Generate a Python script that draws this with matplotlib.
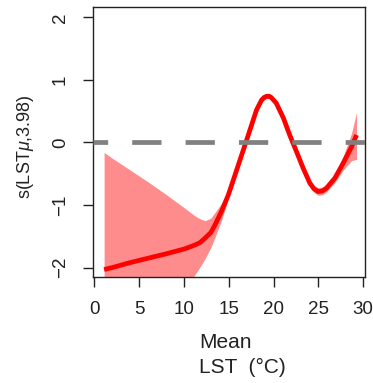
import matplotlib
matplotlib.use("Agg")
import matplotlib.pyplot as plt
import numpy as np

plt.rcParams['font.family'] = ['Liberation Sans', 'DejaVu Sans']
plt.rcParams['mathtext.fontset'] = 'custom'
plt.rcParams['mathtext.rm'] = 'Liberation Sans'
plt.rcParams['mathtext.it'] = 'Liberation Sans:italic'

# Data
lst = [1.1, 2, 4, 6, 8, 10.1, 11.2, 11.8, 12.35, 13.0, 13.46, 14.2, 14.95, 15.7,
       16.44, 17.0, 17.55, 18.1, 18.67, 18.95, 19.2, 19.45, 19.7, 20.3, 21.1,
       21.8, 22.57, 23.3, 24.05, 24.5, 24.98, 25.45, 25.9, 26.84, 27.77, 28.7,
       29.26]
fit = [-2.03, -2.00, -1.92, -1.85, -1.78, -1.70, -1.64, -1.60, -1.53, -1.44,
       -1.32, -1.10, -0.84, -0.52, -0.20, 0.04, 0.28, 0.52, 0.68, 0.72, 0.737,
       0.74, 0.725, 0.63, 0.39, 0.12, -0.15, -0.41, -0.65, -0.74, -0.785,
       -0.775, -0.73, -0.57, -0.33, -0.07, 0.12]
upper = [-0.16, -0.25, -0.44, -0.63, -0.83, -1.05, -1.17, -1.22, -1.25, -1.21,
         -1.12, -0.97, -0.78, -0.46, -0.15, 0.08, 0.32, 0.56, 0.72, 0.76, 0.777,
         0.78, 0.765, 0.67, 0.43, 0.16, -0.11, -0.36, -0.60, -0.685, -0.725,
         -0.715, -0.67, -0.50, -0.22, 0.15, 0.48]
lower = [-3.90, -3.75, -3.40, -3.07, -2.73, -2.35, -2.12, -1.99, -1.86, -1.68,
         -1.52, -1.24, -0.90, -0.58, -0.25, 0.00, 0.24, 0.48, 0.64, 0.68, 0.697,
         0.70, 0.685, 0.59, 0.35, 0.08, -0.19, -0.46, -0.70, -0.795, -0.845,
         -0.835, -0.79, -0.64, -0.44, -0.29, -0.27]
xticks = [0, 5, 10, 15, 20, 25, 30]
yticks = [-2, -1, 0, 1, 2]

fig = plt.figure(figsize=(3.73, 3.83), dpi=100)
ax = fig.add_axes([93/373, 1-277/383, (365-93)/373, (277-7)/383])

ax.fill_between(lst, lower, upper, color='#FF8C8C', lw=0, zorder=1)
ax.plot(lst, fit, color='#FF0000', lw=3.4, solid_capstyle='butt',
        solid_joinstyle='round', zorder=2)
ax.axhline(0, color='#808080', lw=3.4, ls=(3.1, (6.2, 5.1)), zorder=3)

ax.set_xlim(-0.14, 30.2)
ax.set_ylim(-2.15, 2.165)
ax.set_xticks(xticks)
ax.set_yticks(yticks)
ax.set_xticklabels([str(v) for v in xticks], fontsize=13.5)
ax.set_yticklabels(['\u22122', '\u22121', '0', '1', '2'], fontsize=13.5,
                   rotation=90, va='center')
ax.tick_params(direction='out', length=7.2, width=1.0, pad=10, colors='#222222')
for s in ax.spines.values():
    s.set_linewidth(1.0)
    s.set_color('#222222')

fig.text(26/373, 1-147/383, r's(LST$\mathit{\mu}$,3.98)', rotation=90,
         ha='center', va='center', fontsize=13, color='#222222')
fig.text(199/373, 1-348.3/383, 'Mean', ha='left', va='baseline',
         fontsize=15, color='#222222')
fig.text(199/373, 1-372.7/383, 'LST  (\u00b0C)', ha='left', va='baseline',
         fontsize=15, color='#222222')

fig.savefig('out.png', dpi=100)
